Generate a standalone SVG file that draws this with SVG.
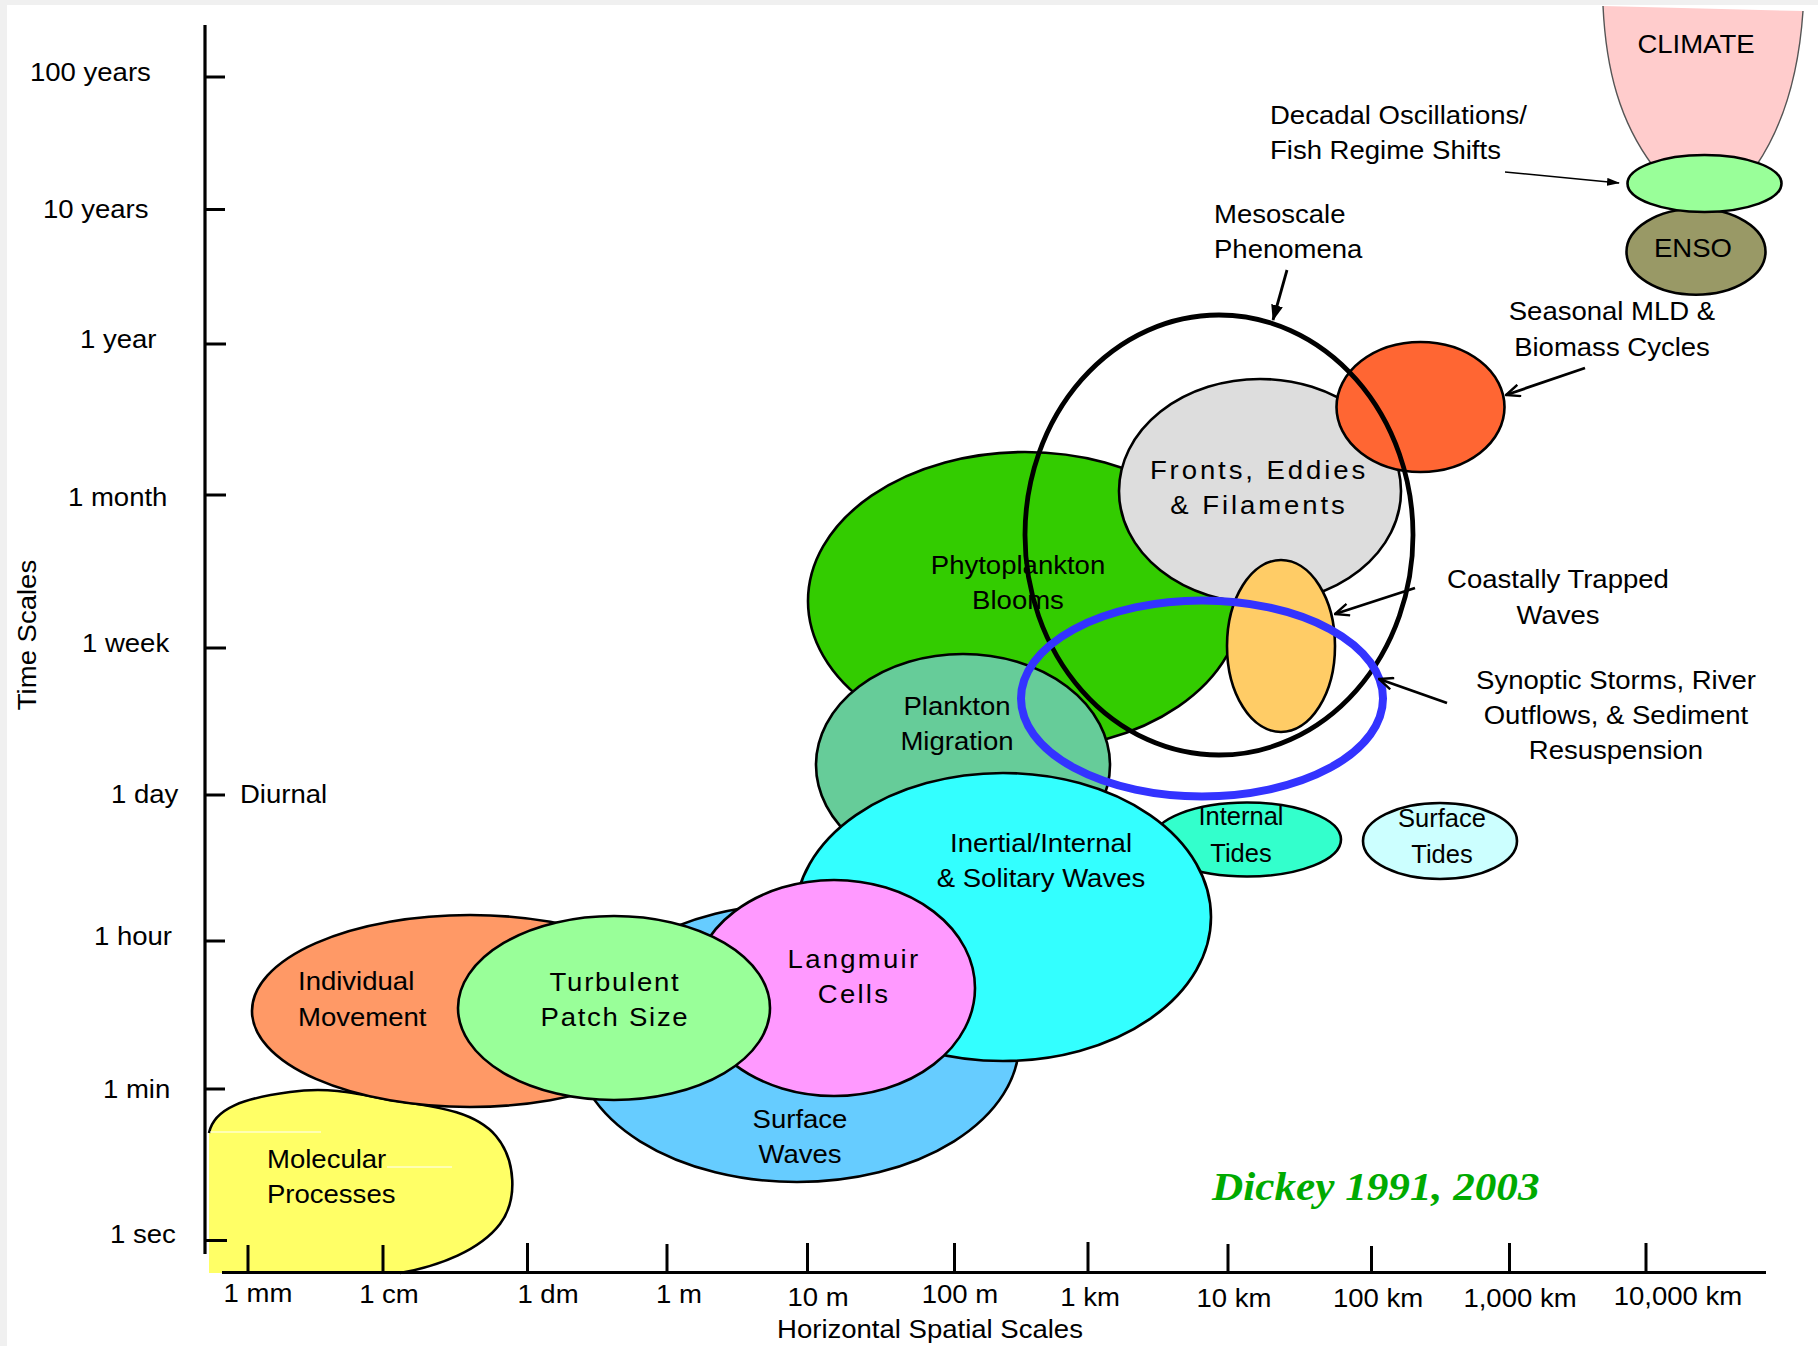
<svg xmlns="http://www.w3.org/2000/svg" width="1818" height="1346" viewBox="0 0 1818 1346">
  <style>
    text { font-family: "Liberation Sans", Arial, Helvetica, sans-serif; font-size: 25.5px; fill: #000; }
    .m { text-anchor: middle; transform-box: fill-box; transform-origin: 50% 50%; transform: scaleX(1.08); }
    .s { text-anchor: start; transform-box: fill-box; transform-origin: 0% 50%; transform: scaleX(1.08); }
    .n { text-anchor: middle; }
    .sp1 { letter-spacing: 1.6px; }
    .sp2 { letter-spacing: 2.1px; }
    .sp3 { letter-spacing: 2.7px; }
    .blob { stroke: #000; stroke-width: 2.6; }
    .axis { stroke: #000; stroke-width: 3.2; fill: none; }
    .tick { stroke: #000; stroke-width: 3; }
    .lead { stroke: #000; stroke-width: 2.8; fill: none; }
    .cite { font-family: "Liberation Serif", "Times New Roman", serif; font-size: 40px; font-weight: bold; font-style: italic; fill: #00AA00; }
  </style>
  <defs>
    <marker id="tri" viewBox="0 0 16 12" refX="15" refY="6" markerWidth="16" markerHeight="12" markerUnits="userSpaceOnUse" orient="auto">
      <path d="M0,0 L16,6 L0,12 Z" fill="#000"/>
    </marker>
    <marker id="triSmall" viewBox="0 0 13 8" refX="12" refY="4" markerWidth="13" markerHeight="8" markerUnits="userSpaceOnUse" orient="auto">
      <path d="M0,0 L13,4 L0,8 Z" fill="#000"/>
    </marker>
    <marker id="vee" viewBox="0 0 16 14" refX="15" refY="7" markerWidth="16" markerHeight="14" markerUnits="userSpaceOnUse" orient="auto">
      <path d="M1,1 L15,7 L1,13" fill="none" stroke="#000" stroke-width="2.4"/>
    </marker>
  </defs>

  <!-- page -->
  <rect x="0" y="0" width="1818" height="1346" fill="#F0F0F0"/>
  <rect x="7" y="5" width="1811" height="1341" fill="#FFFFFF"/>

  <!-- climate funnel -->
  <g id="climate">
    <path d="M1603,6 C1606,70 1620,122 1653,166 L1756,166 C1786,122 1799,70 1803,11 Z" fill="#FFCCCC"/>
    <path d="M1603,6 C1606,70 1620,122 1653,166 M1756,166 C1786,122 1799,70 1803,11" fill="none" stroke="#555" stroke-width="1.4"/>
    <text class="m" x="1696" y="53">CLIMATE</text>
  </g>

  <!-- molecular processes -->
  <g id="molecular">
    <path d="M209,1133 C214,1108 245,1098 290,1092 C325,1087 350,1092 385,1099 C425,1106 472,1108 496,1136 C516,1160 518,1200 500,1224 C480,1250 440,1266 400,1273 L209,1273 Z" fill="#FFFF66"/>
    <path d="M209,1133 C214,1108 245,1098 290,1092 C325,1087 350,1092 385,1099 C425,1106 472,1108 496,1136 C516,1160 518,1200 500,1224 C480,1250 440,1266 400,1273" fill="none" class="blob"/>
    <line x1="210" y1="1132" x2="321" y2="1132" stroke="#FFFFFF" stroke-width="1.2"/>
    <line x1="387" y1="1167" x2="452" y2="1167" stroke="#FFFFFF" stroke-width="1.2"/>
    <text class="s" x="267" y="1168">Molecular</text>
    <text class="s" x="267" y="1203">Processes</text>
  </g>

  <g id="individual">
    <ellipse cx="470" cy="1011" rx="218" ry="96" fill="#FF9966" class="blob"/>
    <text class="s" x="298" y="990">Individual</text>
    <text class="s" x="298" y="1026">Movement</text>
  </g>

  <g id="surface-waves">
    <ellipse cx="797" cy="1043" rx="222" ry="139" fill="#66CCFF" class="blob"/>
    <text class="m" x="800" y="1128">Surface</text>
    <text class="m" x="800" y="1163">Waves</text>
  </g>

  <g id="phytoplankton">
    <ellipse cx="1025" cy="601" rx="217" ry="149" fill="#33CC00" class="blob"/>
    <text class="m" x="1018" y="574">Phytoplankton</text>
    <text class="m" x="1018" y="609">Blooms</text>
  </g>

  <g id="plankton-migration">
    <ellipse cx="963" cy="765" rx="147" ry="111" fill="#66CC99" class="blob"/>
    <text class="m" x="957" y="715">Plankton</text>
    <text class="m" x="957" y="750">Migration</text>
  </g>

  <g id="internal-tides">
    <ellipse cx="1247" cy="839.5" rx="94" ry="37" fill="#33FFCC" class="blob"/>
    <text class="n" x="1241" y="825">Internal</text>
    <text class="n" x="1241" y="862">Tides</text>
  </g>

  <g id="inertial">
    <ellipse cx="1003" cy="917" rx="208" ry="144" fill="#33FFFF" class="blob"/>
    <text class="m" x="1041" y="852">Inertial/Internal</text>
    <text class="m" x="1041" y="887">&amp; Solitary Waves</text>
  </g>

  <g id="langmuir">
    <ellipse cx="834" cy="988" rx="141" ry="108" fill="#FF99FF" class="blob"/>
    <text class="m sp2" x="854" y="968">Langmuir</text>
    <text class="m sp2" x="854" y="1003">Cells</text>
  </g>

  <g id="turbulent">
    <ellipse cx="614" cy="1008" rx="156" ry="92" fill="#99FF99" class="blob"/>
    <text class="m sp1" x="615" y="991">Turbulent</text>
    <text class="m sp1" x="615" y="1026">Patch Size</text>
  </g>

  <g id="fronts">
    <ellipse cx="1260" cy="491" rx="141" ry="112" fill="#DDDDDD" class="blob"/>
    <text class="m sp3" x="1259" y="479">Fronts, Eddies</text>
    <text class="m sp3" x="1259" y="514">&amp; Filaments</text>
  </g>

  <g id="seasonal">
    <ellipse cx="1420.5" cy="407" rx="84" ry="65" fill="#FF6633" class="blob"/>
  </g>

  <g id="coastal">
    <ellipse cx="1281" cy="646" rx="54" ry="86" fill="#FFCC66" class="blob"/>
  </g>

  <g id="mesoscale">
    <ellipse cx="1219" cy="535" rx="194" ry="220" fill="none" stroke="#000" stroke-width="4.8"/>
  </g>

  <g id="synoptic">
    <ellipse cx="1202" cy="698.5" rx="181" ry="98" fill="none" stroke="#3333FF" stroke-width="8"/>
  </g>

  <g id="surface-tides">
    <ellipse cx="1440" cy="841" rx="77" ry="38" fill="#CCFFFF" class="blob"/>
    <text class="n" x="1442" y="827">Surface</text>
    <text class="n" x="1442" y="863">Tides</text>
  </g>

  <g id="enso">
    <ellipse cx="1696" cy="251.7" rx="69.5" ry="43" fill="#999966" class="blob"/>
    <text class="m" x="1693" y="257">ENSO</text>
  </g>

  <g id="decadal">
    <ellipse cx="1704.5" cy="183.5" rx="77" ry="28.5" fill="#99FF99" class="blob"/>
  </g>

  <!-- free labels -->
  <g id="annotations">
    <text class="s" x="1270" y="124">Decadal Oscillations/</text>
    <text class="s" x="1270" y="159">Fish Regime Shifts</text>
    <text class="s" x="1214" y="223">Mesoscale</text>
    <text class="s" x="1214" y="258">Phenomena</text>
    <text class="m" x="1612" y="320">Seasonal MLD &amp;</text>
    <text class="m" x="1612" y="356">Biomass Cycles</text>
    <text class="m" x="1558" y="588">Coastally Trapped</text>
    <text class="m" x="1558" y="624">Waves</text>
    <text class="m" x="1616" y="689">Synoptic Storms, River</text>
    <text class="m" x="1616" y="724">Outflows, &amp; Sediment</text>
    <text class="m" x="1616" y="759">Resuspension</text>
    <text class="s cite" x="1212" y="1200">Dickey 1991, 2003</text>
  </g>

  <!-- pointer arrows -->
  <g id="connectors">
    <line x1="1505" y1="172" x2="1619" y2="183" stroke="#000" stroke-width="1.5" marker-end="url(#triSmall)"/>
    <line x1="1287" y1="270" x2="1273" y2="320" class="lead" marker-end="url(#tri)"/>
    <line x1="1585" y1="368" x2="1506" y2="395" class="lead" marker-end="url(#vee)"/>
    <line x1="1415" y1="588" x2="1335" y2="614" class="lead" marker-end="url(#vee)"/>
    <line x1="1447" y1="703" x2="1379" y2="679" class="lead" marker-end="url(#vee)"/>
  </g>

  <!-- axes -->
  <g id="axes">
    <line x1="205" y1="25" x2="205" y2="1254" class="axis"/>
    <line x1="222" y1="1272.5" x2="1766" y2="1272.5" class="axis" stroke-width="3.6"/>
    <g class="tick">
      <line x1="205" y1="77" x2="225" y2="77"/>
      <line x1="205" y1="209.5" x2="225" y2="209.5"/>
      <line x1="205" y1="344" x2="226" y2="344"/>
      <line x1="205" y1="495" x2="226" y2="495"/>
      <line x1="205" y1="648" x2="226" y2="648"/>
      <line x1="205" y1="795" x2="225" y2="795"/>
      <line x1="205" y1="941" x2="225" y2="941"/>
      <line x1="205" y1="1089" x2="225" y2="1089"/>
      <line x1="205" y1="1240.5" x2="227" y2="1240.5"/>
      <line x1="248" y1="1245" x2="248" y2="1272"/>
      <line x1="383" y1="1245" x2="383" y2="1272"/>
      <line x1="527.5" y1="1243" x2="527.5" y2="1272"/>
      <line x1="667" y1="1244" x2="667" y2="1272"/>
      <line x1="807.5" y1="1243" x2="807.5" y2="1272"/>
      <line x1="954.5" y1="1243" x2="954.5" y2="1272"/>
      <line x1="1088" y1="1242" x2="1088" y2="1272"/>
      <line x1="1228" y1="1244" x2="1228" y2="1272"/>
      <line x1="1371.5" y1="1246" x2="1371.5" y2="1272"/>
      <line x1="1509.5" y1="1243" x2="1509.5" y2="1272"/>
      <line x1="1646" y1="1243" x2="1646" y2="1272"/>
    </g>
    <text class="s" x="30" y="81">100 years</text>
    <text class="s" x="43" y="218">10 years</text>
    <text class="s" x="80" y="348">1 year</text>
    <text class="s" x="68" y="506">1 month</text>
    <text class="s" x="82" y="652">1 week</text>
    <text class="s" x="111" y="803">1 day</text>
    <text class="s" x="240" y="803">Diurnal</text>
    <text class="s" x="94" y="945">1 hour</text>
    <text class="s" x="103" y="1098">1 min</text>
    <text class="s" x="110" y="1243">1 sec</text>
    <text text-anchor="middle" transform="translate(36,635) rotate(-90) scale(1.08,1)">Time Scales</text>
    <text class="m" x="258" y="1302">1 mm</text>
    <text class="m" x="389" y="1303">1 cm</text>
    <text class="m" x="548" y="1303">1 dm</text>
    <text class="m" x="679" y="1303">1 m</text>
    <text class="m" x="818" y="1306">10 m</text>
    <text class="m" x="960" y="1303">100 m</text>
    <text class="m" x="1090" y="1306">1 km</text>
    <text class="m" x="1234" y="1307">10 km</text>
    <text class="m" x="1378" y="1307">100 km</text>
    <text class="m" x="1520" y="1307">1,000 km</text>
    <text class="m" x="1678" y="1305">10,000 km</text>
    <text class="m" x="930" y="1338">Horizontal Spatial Scales</text>
  </g>
</svg>
